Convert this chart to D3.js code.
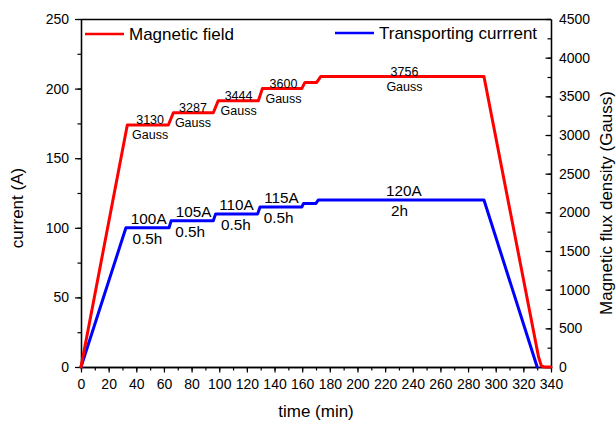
<!DOCTYPE html>
<html><head><meta charset="utf-8">
<script src="https://cdn.jsdelivr.net/npm/d3@7"></script>
<style>
body{margin:0;background:#fff}
svg{display:block}
text{font-family:"Liberation Sans",Arial,Helvetica,sans-serif;fill:#000}
</style>
</head><body>
<svg id="c" width="616" height="424"></svg>
<script>
// ---- data ----
const fieldTime  = [0, 33.5, 63.2, 66.8, 95.7, 99.3, 128.3, 131.2, 159.7, 162, 170.5, 173.4, 291.5, 331, 333, 335, 340];
const fieldGauss = [0, 3130, 3130, 3287, 3287, 3444, 3444, 3600, 3600, 3680, 3680, 3756, 3756, 130, 15, 0, 0];
const currentTime = [0, 32.5, 63.7, 65.2, 95.7, 97.4, 127.8, 129.5, 159.8, 161, 170, 171.7, 291.5, 330];
const currentAmps = [0, 100, 100, 105, 105, 110, 110, 115, 115, 117.5, 117.5, 120, 120, 0];

const fieldLabelTime  = [50, 81, 114, 146.5, 234];
const fieldLabelGauss = [3130, 3287, 3444, 3600, 3756];
const currentLabelTime = [49, 81.5, 112.5, 145, 233.5];
const currentLabelAmps = [100, 105, 110, 115, 120];
const durationLabelTime = [48, 79, 112, 143, 230.5];
const durationLabelText = ["0.5h", "0.5h", "0.5h", "0.5h", "2h"];

const timeTicks = d3.range(0, 341, 20);
const timeMinor = d3.range(0, 341, 10);
const currentTicks = d3.range(0, 251, 50);
const currentMinor = d3.range(0, 251, 25);
const gaussTicks = d3.range(0, 4501, 500);
const gaussMinor = d3.range(0, 4501, 250);

const seriesNames = ["Magnetic field", "Transporting currrent"];
const seriesColors = ["#ff0000", "#0000ff"];

// ---- layout ----
const svg = d3.select("#c");
const X0 = 81, X1 = 551, Y0 = 367, Y1 = 19;
const x = d3.scaleLinear().domain([0, 340]).range([X0, X1]);
const yL = d3.scaleLinear().domain([0, 250]).range([Y0, Y1]);
const yR = d3.scaleLinear().domain([0, 4500]).range([Y0, Y1]);

function styleAxis(g, fs) {
  g.select(".domain").attr("stroke", "#000").attr("stroke-width", 1.3);
  g.selectAll(".tick line").attr("stroke", "#000").attr("stroke-width", 1.2);
  g.selectAll("text").attr("font-size", fs).attr("font-family", '"Liberation Sans",Arial,sans-serif').attr("fill", "#000");
}

// minor ticks
const gxm = svg.append("g").attr("transform", `translate(0,${Y0})`)
  .call(d3.axisBottom(x).tickValues(timeMinor).tickSize(3.5).tickSizeOuter(0).tickFormat(""));
styleAxis(gxm, 14);
const gylm = svg.append("g").attr("transform", `translate(${X0},0)`)
  .call(d3.axisLeft(yL).tickValues(currentMinor).tickSize(3.5).tickSizeOuter(0).tickFormat(""));
styleAxis(gylm, 14);
const gyrm = svg.append("g").attr("transform", `translate(${X1},0)`)
  .call(d3.axisRight(yR).tickValues(gaussMinor).tickSize(-3.5).tickSizeOuter(0).tickFormat(""));
styleAxis(gyrm, 14);

// major axes
const gx = svg.append("g").attr("transform", `translate(0,${Y0})`)
  .call(d3.axisBottom(x).tickValues(timeTicks).tickSize(5.5).tickPadding(7).tickSizeOuter(0).tickFormat(d3.format("d")));
styleAxis(gx, 14);
const gyl = svg.append("g").attr("transform", `translate(${X0},0)`)
  .call(d3.axisLeft(yL).tickValues(currentTicks).tickSize(6).tickPadding(6).tickSizeOuter(0).tickFormat(d3.format("d")));
styleAxis(gyl, 14);
const gyr = svg.append("g").attr("transform", `translate(${X1},0)`)
  .call(d3.axisRight(yR).tickValues(gaussTicks).tickSize(-5.5).tickPadding(8).tickSizeOuter(0).tickFormat(d3.format("d")));
styleAxis(gyr, 14);

// top frame line
svg.append("line").attr("x1", X0).attr("x2", X1).attr("y1", Y1 + 0.5).attr("y2", Y1 + 0.5)
  .attr("stroke", "#000").attr("stroke-width", 1.3);

// axis titles
svg.append("text").attr("x", x(170)).attr("y", 417).attr("text-anchor", "middle")
  .attr("font-size", 17).text("time (min)");
svg.append("text").attr("transform", `translate(23,${(Y0 + Y1) / 2 + 15}) rotate(-90)`)
  .attr("text-anchor", "middle").attr("font-size", 17).text("current (A)");
svg.append("text").attr("transform", `translate(612,${(Y0 + Y1) / 2 + 10}) rotate(-90)`)
  .attr("text-anchor", "middle").attr("font-size", 17).text("Magnetic flux density (Gauss)");

// lines
const currentData = currentTime.map((t, i) => [t, currentAmps[i]]);
const fieldData = fieldTime.map((t, i) => [t, fieldGauss[i]]);
svg.append("path").datum(currentData)
  .attr("d", d3.line().x(d => x(d[0])).y(d => yL(d[1])))
  .attr("fill", "none").attr("stroke", seriesColors[1]).attr("stroke-width", 3)
  .attr("stroke-linejoin", "round").attr("stroke-linecap", "round");
svg.append("path").datum(fieldData)
  .attr("d", d3.line().x(d => x(d[0])).y(d => yR(d[1])))
  .attr("fill", "none").attr("stroke", seriesColors[0]).attr("stroke-width", 3)
  .attr("stroke-linejoin", "round").attr("stroke-linecap", "round");

// field annotations
fieldLabelTime.forEach((t, i) => {
  const yy = yR(fieldLabelGauss[i]);
  svg.append("text").attr("x", x(t)).attr("y", yy - 1).attr("text-anchor", "middle")
    .attr("font-size", 12.5).text(String(fieldLabelGauss[i]));
  svg.append("text").attr("x", x(t)).attr("y", yy + 14.5).attr("text-anchor", "middle")
    .attr("font-size", 12.5).text("Gauss");
});
// current annotations
currentLabelTime.forEach((t, i) => {
  const yy = yL(currentLabelAmps[i]);
  svg.append("text").attr("x", x(t)).attr("y", yy - 3.8).attr("text-anchor", "middle")
    .attr("font-size", 15.3).text(currentLabelAmps[i] + "A");
  svg.append("text").attr("x", x(durationLabelTime[i])).attr("y", yy + 16).attr("text-anchor", "middle")
    .attr("font-size", 15.3).text(durationLabelText[i]);
});

// legends
const legendPos = [[85, 34, 129], [335, 33, 379]];
seriesNames.forEach((name, i) => {
  const [lx, ly, tx] = legendPos[i];
  svg.append("line").attr("x1", lx).attr("x2", lx + 39).attr("y1", ly).attr("y2", ly)
    .attr("stroke", seriesColors[i]).attr("stroke-width", 2.5);
  svg.append("text").attr("x", tx).attr("y", ly + 6.3).attr("font-size", 17).text(name);
});
</script>
</body></html>
